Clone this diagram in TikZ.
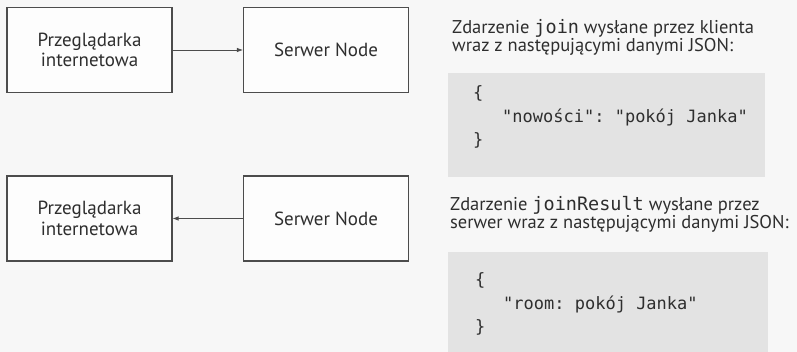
\documentclass[tikz,border=0pt]{standalone}
\usepackage{fontspec}
\setmainfont{PT Sans}
\setmonofont{DejaVu Sans Mono}
\usetikzlibrary{arrows.meta}

\begin{document}
\begin{tikzpicture}[x=1pt, y=-1pt, font=\fontsize{19}{20.5}\selectfont, text=black!82,
	box/.style={draw=black!70, line width=1.1pt, fill=white!60!black!2, minimum width=165pt, minimum height=85pt, align=center, inner sep=0pt},
	flow/.style={draw=black!70, line width=0.8pt, -{Latex[length=6pt,width=4.5pt]}},
	note/.style={anchor=west, align=left, inner sep=0pt, font=\fontsize{18.5}{17}\selectfont},
	code/.style={anchor=west, align=left, inner sep=0pt, font=\ttfamily\fontsize{17}{23.5}\selectfont}]
	\useasboundingbox[fill=black!3] (0,0) rectangle (797,352);
	% The browser and server boxes
	\node[box] (browserA) at (89.5,50) {Przeglądarka\\internetowa};
	\node[box] (serverA) at (326,50) {Serwer Node};
	\node[box] (browserB) at (89.5,218.5) {Przeglądarka\\internetowa};
	\node[box] (serverB) at (326,218.5) {Serwer Node};
	\draw[flow] (browserA.east) -- (serverA.west);
	\draw[flow] (serverB.west) -- (browserB.east);
	% Gray code areas on the right
	\fill[black!11] (448,73) rectangle (765,177);
	\fill[black!11] (448,252) rectangle (768,352);
	% Labels
	\node[note] (eventA) at (452,37.5) {Zdarzenie {\ttfamily join} wysłane przez klienta\\wraz z następującymi danymi JSON:};
	\node[note] (eventB) at (450,214) {Zdarzenie {\ttfamily joinResult} wysłane przez\\serwer wraz z następującymi danymi JSON:};
	\node[code] (jsonA) at (473,117) {\{\\\hspace*{29pt}"nowości": "pokój Janka"\\\}};
	\node[code] (jsonB) at (475,304) {\{\\\hspace*{28pt}"room: pokój Janka"\\\}};
\end{tikzpicture}
\end{document}
